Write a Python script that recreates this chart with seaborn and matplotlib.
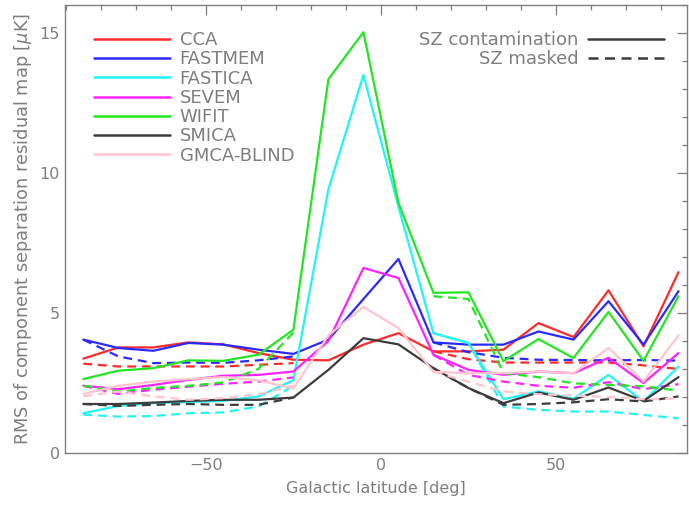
import numpy as np
import pandas as pd
import matplotlib
matplotlib.use('Agg')
import matplotlib.pyplot as plt
import seaborn as sns
from matplotlib.lines import Line2D
from matplotlib.ticker import MultipleLocator

# galactic latitude bins (deg)
latitude = [-85, -75, -65, -55, -45, -35, -25, -15, -5, 5, 15, 25, 35, 45, 55, 65, 75, 85]

methods = ['CCA', 'FASTMEM', 'FASTICA', 'SEVEM', 'WIFIT', 'SMICA', 'GMCA-BLIND']
colors = ['#ff2a2a', '#2a2aff', '#22f4f4', '#ff22ff', '#22e622', '#3c3c3c', '#ffc4cc']

# RMS with SZ contamination (solid)
cca_sz = [3.37, 3.77, 3.77, 3.95, 3.88, 3.57, 3.33, 3.31, 3.87, 4.28, 3.63, 3.63, 3.69, 4.64, 4.14, 5.81, 3.81, 6.46]
fastmem_sz = [4.05, 3.75, 3.65, 3.93, 3.87, 3.69, 3.54, 4.05, 5.5, 6.93, 3.95, 3.87, 3.87, 4.34, 4.05, 5.42, 3.87, 5.78]
fastica_sz = [1.42, 1.68, 1.78, 1.82, 1.86, 2.02, 2.6, 9.42, 13.5, 8.8, 4.28, 3.93, 1.92, 2.20, 1.94, 2.79, 1.84, 3.09]
sevem_sz = [2.40, 2.28, 2.43, 2.61, 2.76, 2.79, 2.91, 4.0, 6.61, 6.25, 3.51, 2.97, 2.79, 2.91, 2.85, 3.4, 2.50, 3.57]
wifit_sz = [2.64, 2.94, 3.03, 3.31, 3.29, 3.51, 4.4, 13.35, 15.03, 8.94, 5.72, 5.74, 3.28, 4.07, 3.39, 5.04, 3.29, 5.60]
smica_sz = [1.75, 1.75, 1.80, 1.86, 1.90, 1.90, 1.98, 2.97, 4.1, 3.88, 3.03, 2.32, 1.78, 2.16, 1.90, 2.34, 1.86, 2.71]
gmca_sz = [2.11, 2.40, 2.55, 2.64, 2.71, 2.6, 2.3, 4.2, 5.22, 4.46, 2.9, 2.85, 2.85, 2.91, 2.85, 3.75, 2.55, 4.2]

# RMS with SZ masked (dashed), no value near the plane
nan = np.nan
cca_mask = [3.19, 3.09, 3.09, 3.09, 3.09, 3.15, 3.21, nan, nan, nan, 3.63, 3.35, 3.23, 3.23, 3.23, 3.23, 3.13, 3.0]
fastmem_mask = [4.05, 3.45, 3.21, 3.23, 3.22, 3.31, 3.45, nan, nan, nan, 3.95, 3.6, 3.40, 3.33, 3.32, 3.31, 3.32, 3.30]
fastica_mask = [1.37, 1.30, 1.32, 1.42, 1.45, 1.66, 2.4, nan, nan, nan, 4.28, 3.93, 1.66, 1.54, 1.48, 1.48, 1.36, 1.24]
sevem_mask = [2.40, 2.11, 2.26, 2.37, 2.47, 2.55, 2.7, nan, nan, nan, 3.5, 2.79, 2.55, 2.40, 2.33, 2.53, 2.28, 2.46]
wifit_mask = [2.40, 2.20, 2.32, 2.40, 2.52, 3.0, 4.3, nan, nan, nan, 5.6, 5.5, 2.85, 2.71, 2.49, 2.43, 2.38, 2.23]
smica_mask = [1.75, 1.68, 1.72, 1.75, 1.72, 1.72, 1.98, nan, nan, nan, 3.03, 2.32, 1.72, 1.75, 1.81, 1.92, 1.84, 2.02]
gmca_mask = [2.02, 2.2, 2.02, 1.90, 1.96, 2.1, 2.4, nan, nan, nan, 2.9, 2.55, 2.2, 2.1, 2.05, 2.0, 1.92, 1.95]

sz_series = [cca_sz, fastmem_sz, fastica_sz, sevem_sz, wifit_sz, smica_sz, gmca_sz]
mask_series = [cca_mask, fastmem_mask, fastica_mask, sevem_mask, wifit_mask, smica_mask, gmca_mask]


def build_frame():
    rows = []
    for name, sz, mk in zip(methods, sz_series, mask_series):
        for b, v in zip(latitude, sz):
            rows.append((b, v, name, 'SZ contamination', name + '_sz'))
        for b, v in zip(latitude, mk):
            if np.isnan(v):
                continue
            seg = 'n' if b < 0 else 's'
            rows.append((b, v, name, 'SZ masked', name + '_mask_' + seg))
    return pd.DataFrame(rows, columns=['lat', 'rms', 'method', 'case', 'unit'])


df = build_frame()

sns.set_style('white')
plt.rcParams['font.family'] = ['DejaVu Sans']
grey = '#7e7e7e'

fig = plt.figure(figsize=(6.89, 5.05), dpi=100)
ax = fig.add_axes([0.094, 0.103, 0.903, 0.887])

palette = dict(zip(methods, colors))
sns.lineplot(data=df, x='lat', y='rms', hue='method', style='case', units='unit',
             estimator=None, sort=False, palette=palette,
             dashes={'SZ contamination': '', 'SZ masked': (4, 2.6)},
             linewidth=1.6, legend=False, ax=ax)

ax.set_xlim(-90.3, 87.4)
ax.set_ylim(0, 16)
ax.xaxis.set_major_locator(MultipleLocator(50))
ax.xaxis.set_minor_locator(MultipleLocator(10))
ax.yaxis.set_major_locator(MultipleLocator(5))
ax.yaxis.set_minor_locator(MultipleLocator(1))
ax.tick_params(which='both', direction='in', top=True, right=True, colors=grey,
               labelcolor=grey, labelsize=11.5)
ax.tick_params(which='major', length=7, width=0.9)
ax.tick_params(which='minor', length=3.5, width=0.9)
for sp in ax.spines.values():
    sp.set_color(grey)
    sp.set_linewidth(1.0)

ax.set_xlabel('Galactic latitude [deg]', color=grey, fontsize=11.5, labelpad=6)
ax.set_ylabel('RMS of component separation residual map [$\\mu$K]', color=grey, fontsize=12.8)

# method legend
handles = [Line2D([], [], color=c, lw=1.8) for c in colors]
leg1 = ax.legend(handles, methods, loc='upper left', bbox_to_anchor=(0.035, 0.958),
                 frameon=False, fontsize=13, handlelength=4.2, handletextpad=0.55,
                 labelspacing=0.07, borderaxespad=0)
for t in leg1.get_texts():
    t.set_color(grey)
ax.add_artist(leg1)

# line style legend
sty_handles = [Line2D([], [], color='#3c3c3c', lw=1.8),
               Line2D([], [], color='#3c3c3c', lw=1.8, dashes=(4, 2.6))]
leg2 = ax.legend(sty_handles, ['SZ contamination', 'SZ masked'], loc='upper right',
                 bbox_to_anchor=(0.975, 0.958), frameon=False, fontsize=13,
                 handlelength=4.2, handletextpad=0.55, labelspacing=0.07,
                 borderaxespad=0, markerfirst=False)
for t in leg2.get_texts():
    t.set_color(grey)

fig.savefig('out.png', dpi=100)
